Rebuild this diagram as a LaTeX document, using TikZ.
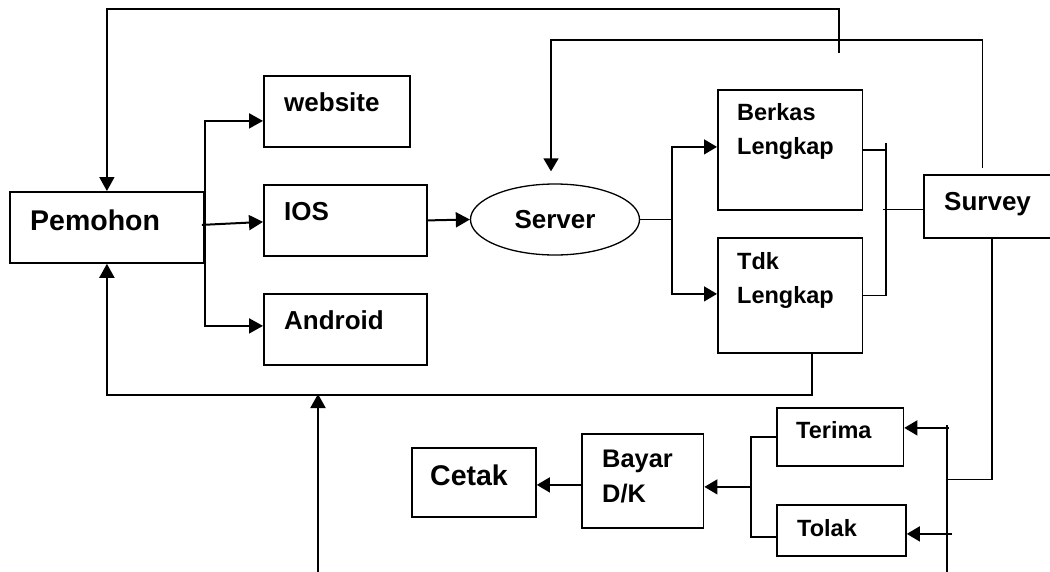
\documentclass[tikz,border=0pt]{standalone}
\usepackage{fontspec}
\setmainfont{Liberation Sans}
\usetikzlibrary{shapes.geometric,arrows.meta}
\newcommand{\txtbig}{\fontsize{28.5}{34}\selectfont}
\newcommand{\txtmid}{\fontsize{26}{31}\selectfont}
\newcommand{\txtsmall}{\fontsize{23.5}{33.5}\selectfont}
\newcommand{\txtbayar}{\fontsize{25.4}{35}\selectfont}
\tikzstyle{boxes} = [rectangle, draw=black, line width=1.8pt, inner sep=0pt, anchor=north west]
\tikzstyle{oval} = [ellipse, draw=black, line width=1.3pt, inner sep=0pt, font=\bfseries\txtmid]
\tikzstyle{txt} = [anchor=base west, inner sep=0pt, align=left, font=\bfseries\txtmid]
\tikzstyle{arrow} = [line width=2pt, -{Triangle[length=14pt,width=15pt]}]
\tikzstyle{thinarrow} = [line width=1.4pt, -{Triangle[length=13pt,width=15pt]}]
\tikzstyle{thinline} = [line width=1.4pt]

\begin{document}
\begin{tikzpicture}[x=1pt, y=-1pt]
            \useasboundingbox (0,0) rectangle (1050,571);
            % boxes
            \node(pem) [boxes, minimum width=194pt, minimum height=71pt] at (9,191) {};
            \node(web) [boxes, minimum width=146pt, minimum height=71pt] at (263,75) {};
            \node(ios) [boxes, minimum width=163pt, minimum height=71pt] at (263,184) {};
            \node(and) [boxes, minimum width=163pt, minimum height=71pt] at (263,293) {};
            \node(srv) [oval, minimum width=169pt, minimum height=71pt] at (555,219.5) {Server};
            \node(blk) [boxes, minimum width=144.5pt, minimum height=120pt] at (717,89) {};
            \node(tdk) [boxes, minimum width=144.5pt, minimum height=115pt] at (717,237) {};
            \node(sur) [boxes, minimum width=136pt, minimum height=63pt] at (923,174) {};
            \node(ter) [boxes, minimum width=126.5pt, minimum height=58pt] at (776,407) {};
            \node(tol) [boxes, minimum width=129pt, minimum height=51pt] at (776,504) {};
            \node(bay) [boxes, minimum width=121.6pt, minimum height=94pt] at (581,433) {};
            \node(cet) [boxes, minimum width=124pt, minimum height=69pt] at (411,447) {};
            % texts (multi-line ones sit on their last baseline)
            \node(pemT) [txt, font=\bfseries\txtbig] at (30,230) {Pemohon};
            \node(webT) [txt] at (284,111) {website};
            \node(iosT) [txt] at (284,220) {IOS};
            \node(andT) [txt] at (284,329) {Android};
            \node(blkT) [txt, font=\bfseries\txtsmall] at (737,154) {Berkas\\Lengkap};
            \node(tdkT) [txt, font=\bfseries\txtsmall] at (737,303) {Tdk\\Lengkap};
            \node(surT) [txt] at (944,210) {Survey};
            \node(terT) [txt, font=\bfseries\txtsmall] at (796,438) {Terima};
            \node(tolT) [txt, font=\bfseries\txtsmall] at (797,536) {Tolak};
            \node(bayT) [txt, font=\bfseries\txtbayar] at (602,502) {Bayar\\D/K};
            \node(cetT) [txt, font=\bfseries\txtbig] at (430,485) {Cetak};
            % free ends
            \coordinate (tick1) at (839,53);
            \coordinate (top1) at (839,9);
            \coordinate (s1) at (982.5,168);
            \coordinate (d0) at (947,425);
            \coordinate (d1) at (947,572);
            \coordinate (b0) at (318,572);
            \coordinate (b1) at (318,394);
            % loops back
            \draw[arrow, line width=1.7pt] (tick1) -- (top1) -| (pem.north);
            \draw[thinarrow] (s1) -- ++(0,-128) -| ([xshift=-4pt,yshift=12pt]srv.north);
            \draw[arrow] ([xshift=22pt]tdk.south) -- ++(0,41) -| (pem.south);
            \draw[arrow] (b0) -- (b1);
            % pemohon branches
            \draw[arrow] (pem.east) |- ([yshift=-9.5pt]web.west);
            \draw[arrow] (pem.east) |- ([yshift=3.5pt]and.west);
            \draw[arrow] ([xshift=-3pt,yshift=2.5pt]pem.east) -- ([yshift=-1.5pt]ios.west);
            \draw[arrow] (ios.east) -- (srv.west);
            % server to berkas
            \draw[thinline] (srv.east) -- ++(32,0) coordinate (sj);
            \draw[thinarrow] (sj) |- ([yshift=3pt]blk.west);
            \draw[thinarrow] (sj) |- ([yshift=1.5pt]tdk.west);
            \draw[thinline] (blk.east) -- ++(22.5,0) coordinate (rj) ++(0,-7) |- (tdk.east);
            \draw[thinline] ([yshift=-3pt]sur.west) -- +(-40,0);
            % survey to terima / tolak
            \draw[thinline] (sur.south) -- ++(0,240.5) -- ++(-44,0);
            \draw[thinline] (d0) -- (d1);
            \draw[thinarrow] ([xshift=44.5pt,yshift=9pt]ter.east) -- ([yshift=9pt]ter.east);
            \draw[thinarrow] ([xshift=45.5pt,yshift=-3.5pt]tol.east) -- ([yshift=-3.5pt]tol.east);
            \draw[thinline] (ter.west) -- ++(-25,0) |- ([yshift=-6.5pt]tol.west);
            \draw[thinarrow] ([xshift=45.4pt,yshift=-6pt]bay.east) -- ([yshift=-6pt]bay.east);
            \draw[thinarrow] ([yshift=-4pt]bay.west) -- ([yshift=-2.5pt]cet.east);
        \end{tikzpicture}
\end{document}
